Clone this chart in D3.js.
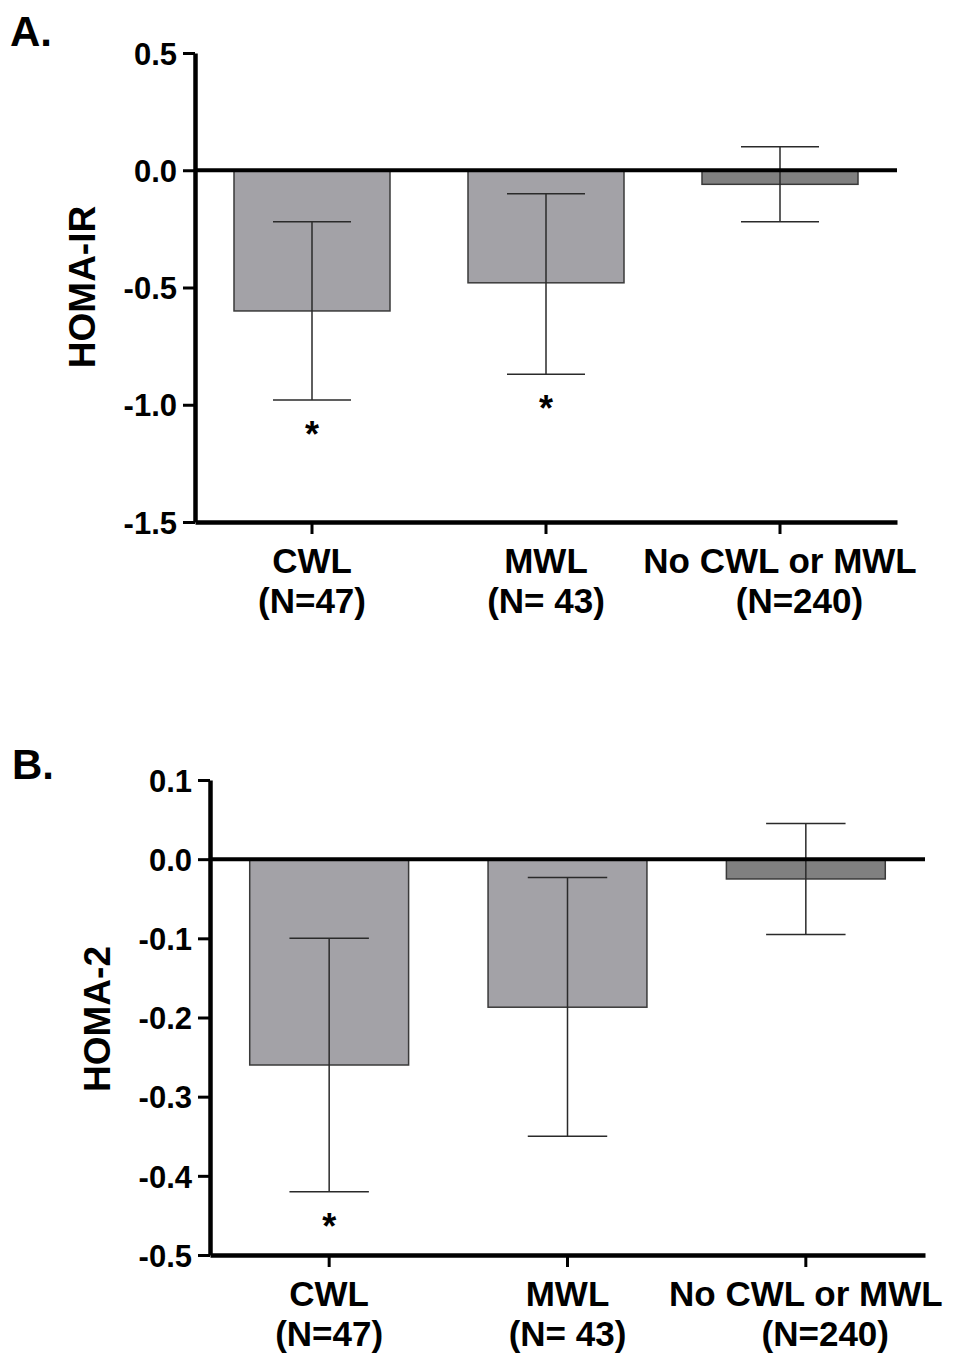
<!DOCTYPE html>
<html>
<head>
<meta charset="utf-8">
<script src="https://cdn.jsdelivr.net/npm/d3@7"></script>
<style>
  body { margin: 0; background: #fff; }
  svg text { font-family: "Liberation Sans", Arial, sans-serif; font-weight: bold; fill: #000; }
</style>
</head>
<body>
<div id="board"></div>
<script>
// groups along the x axis, and the N line under each
const groups = ["CWL", "MWL", "No CWL or MWL"];
const groupNs = ["(N=47)", "(N= 43)", "    (N=240)"];

// panel A: HOMA-IR change, mean and error bar ends
const homaIrMean = [-0.60, -0.48, -0.06];
const homaIrLow = [-0.98, -0.87, -0.22];
const homaIrHigh = [-0.22, -0.10, 0.10];
const homaIrStar = [true, true, false];
const homaIrTicks = [0.5, 0.0, -0.5, -1.0, -1.5];

// panel B: HOMA-2 change
const homa2Mean = [-0.26, -0.187, -0.025];
const homa2Low = [-0.42, -0.35, -0.095];
const homa2High = [-0.10, -0.023, 0.045];
const homa2Star = [true, false, false];
const homa2Ticks = [0.1, 0.0, -0.1, -0.2, -0.3, -0.4, -0.5];

var svg = d3.select("#board")
    .append("svg")
    .attr("width", 954)
    .attr("height", 1357);

function drawPanel(p){
    var g = svg.append("g");

    var x = d3.scaleBand()
        .domain(groups)
        .range([p.left, p.right])
        .paddingInner(1/3)
        .paddingOuter(1/6);

    var y = d3.scaleLinear()
        .domain([d3.min(p.ticks), d3.max(p.ticks)])
        .range([p.bottom, p.top]);

    var rows = groups.map(function(gr, i){
        return {g: gr, n: groupNs[i], mean: p.mean[i], lo: p.low[i], hi: p.high[i], star: p.star[i], i: i};
    });

    // bars
    g.selectAll("rect.bar")
        .data(rows)
        .enter().append("rect")
        .attr("class", "bar")
        .attr("x", function(d){ return x(d.g); })
        .attr("width", x.bandwidth())
        .attr("y", function(d){ return Math.min(y(0), y(d.mean)); })
        .attr("height", function(d){ return Math.abs(y(d.mean) - y(0)); })
        .style("fill", function(d){ return d.i == 2 ? "#808080" : "#a3a2a7"; })
        .style("stroke", "#3a3a3a")
        .style("stroke-width", 1.5);

    // error bars
    var cap = x.bandwidth() / 4;
    rows.forEach(function(d){
        var cx = x(d.g) + x.bandwidth() / 2;
        g.append("line")
            .attr("x1", cx).attr("x2", cx)
            .attr("y1", y(d.hi)).attr("y2", y(d.lo))
            .style("stroke", "#2a2a2a").style("stroke-width", 1.5);
        [d.hi, d.lo].forEach(function(v){
            g.append("line")
                .attr("x1", cx - cap).attr("x2", cx + cap)
                .attr("y1", y(v)).attr("y2", y(v))
                .style("stroke", "#2a2a2a").style("stroke-width", 1.5);
        });
        if(d.star){
            g.append("text")
                .attr("x", cx)
                .attr("y", y(d.lo) + 47)
                .attr("text-anchor", "middle")
                .style("font-size", "36px")
                .text("*");
        }
    });

    // zero line
    g.append("line")
        .attr("x1", p.left).attr("x2", p.right)
        .attr("y1", y(0)).attr("y2", y(0))
        .style("stroke", "#000").style("stroke-width", 4);

    // y axis
    var ya = g.append("g")
        .attr("transform", "translate(" + p.left + ",0)")
        .call(d3.axisLeft(y)
            .tickValues(p.ticks)
            .tickSize(12)
            .tickSizeOuter(0)
            .tickPadding(6)
            .tickFormat(function(d){ return d.toFixed(1); }));
    ya.select(".domain").style("stroke", "#000").style("stroke-width", 4.5);
    ya.selectAll(".tick line").style("stroke", "#000").style("stroke-width", 3);
    ya.selectAll(".tick text")
        .style("font-size", "31px")
        .attr("dy", "0.36em");

    // x axis
    var xa = g.append("g")
        .attr("transform", "translate(0," + p.bottom + ")")
        .call(d3.axisBottom(x).tickSize(12).tickSizeOuter(0));
    xa.select(".domain").style("stroke", "#000").style("stroke-width", 4.5);
    xa.selectAll(".tick line").style("stroke", "#000").style("stroke-width", 3);
    xa.selectAll(".tick text").remove();

    rows.forEach(function(d){
        var cx = x(d.g) + x.bandwidth() / 2;
        var t = g.append("text")
            .attr("text-anchor", "middle")
            .attr("xml:space", "preserve")
            .style("white-space", "pre")
            .style("font-size", "35px");
        t.append("tspan").attr("x", cx).attr("y", p.bottom + 51).text(d.g);
        t.append("tspan").attr("x", cx).attr("y", p.bottom + 91).text(d.n);
    });

    // y title
    g.append("text")
        .attr("transform", "translate(" + p.titleX + "," + p.titleY + ") rotate(-90)")
        .attr("text-anchor", "middle")
        .style("font-size", "37px")
        .text(p.title);

    // panel letter
    g.append("text")
        .attr("x", p.letterX)
        .attr("y", p.letterY)
        .style("font-size", "42px")
        .text(p.letter);
}

drawPanel({
    letter: "A.", letterX: 10, letterY: 46,
    title: "HOMA-IR", titleX: 95, titleY: 287,
    left: 195, right: 897, top: 53, bottom: 522,
    ticks: homaIrTicks, mean: homaIrMean, low: homaIrLow, high: homaIrHigh, star: homaIrStar
});

drawPanel({
    letter: "B.", letterX: 12, letterY: 779,
    title: "HOMA-2", titleX: 110, titleY: 1019,
    left: 210, right: 925, top: 780, bottom: 1255,
    ticks: homa2Ticks, mean: homa2Mean, low: homa2Low, high: homa2High, star: homa2Star
});
</script>
</body>
</html>
